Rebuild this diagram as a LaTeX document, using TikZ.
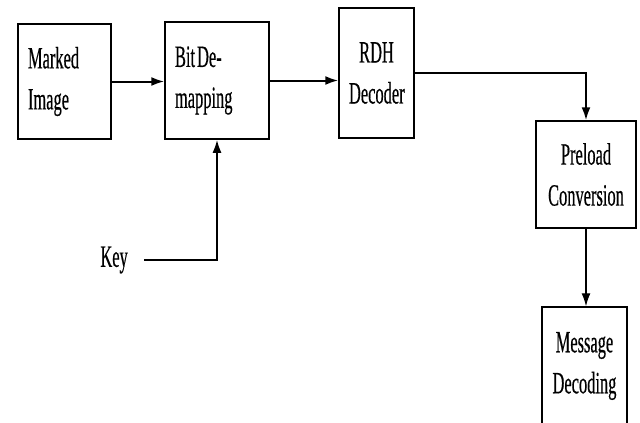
\documentclass[tikz,border=0pt]{standalone}
\usepackage{fontspec}
\setmainfont{Liberation Serif}[FakeStretch=0.53,FakeBold=0.4]
\usepackage{tikz}
\usetikzlibrary{positioning}
\usetikzlibrary{arrows.meta,calc}
\tikzstyle{block}=[rectangle,draw=black,line width=1.5pt,inner xsep=10pt,inner ysep=0pt,font=\fontsize{31}{41}\selectfont]
\tikzstyle{edge} = [draw,line width=2pt,-{Latex[length=13pt,width=9pt]}]
\tikzstyle{thinedge} = [draw,line width=1.2pt,-{Latex[length=13pt,width=9pt]}]
\tikzstyle{keylabel} = [inner xsep=16pt,inner ysep=0pt,font=\fontsize{31}{41}\selectfont]

\begin{document}
\begin{tikzpicture}[x=1pt,y=1pt]
    \useasboundingbox (0,0) rectangle (640,-423);
    % First we draw the blocks
    \foreach \pos/\name/\w/\h/\al/\label in {{(64.5,-81.5)/mark/93/115/left/{Marked\\Image}},
        {(217,-80.5)/bit/104/117/left/{Bit\kern2pt De-\\mapping}},
        {(376.5,-73)/rdh/75/130/center/{RDH\\Decoder\\[12pt]}},
        {(586,-174.5)/pre/100/107/center/{Preload\\Conversion}},
        {(584.5,-366)/msg/85/118/center/{Message\\Decoding}}}
        \node[block, minimum width=\w pt, minimum height=\h pt, text width=\w pt-20pt, align=\al] (\name) at \pos {\label};

    \node[keylabel, anchor=east] (key) at (144,-260) {Key};

    % Connect blocks with arrows
    \path[edge] (mark.east) -- (mark.east -| bit.west);
    \path[edge] (bit.east) -- (bit.east -| rdh.west);
    \path[edge] (rdh.east) -| (pre.north);
    \path[thinedge] (pre.south) -- (pre.south |- msg.north);
    \path[edge] (key.east) -| (bit.south);
\end{tikzpicture}
\end{document}
